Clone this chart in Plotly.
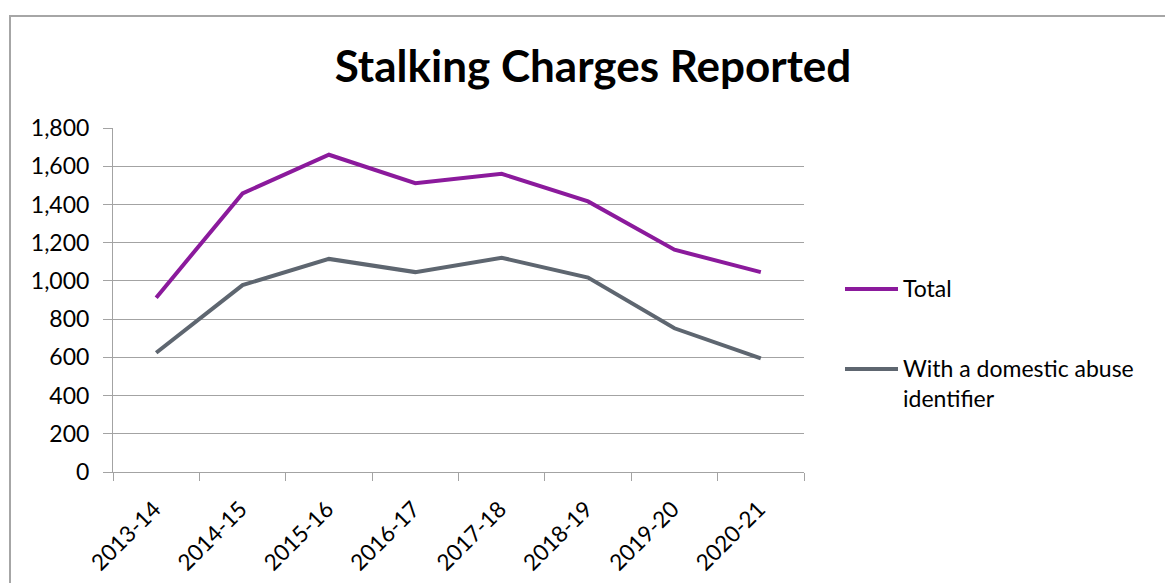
import plotly.graph_objects as go

years = ["2013-14", "2014-15", "2015-16", "2016-17", "2017-18", "2018-19", "2019-20", "2020-21"]
total = [912, 1458, 1660, 1511, 1560, 1416, 1163, 1046]
domestic = [624, 978, 1115, 1046, 1121, 1017, 752, 594]
series_names = ["Total", "With a domestic abuse identifier"]
series_colors = ["#8B1A9C", "#5E6670"]
title_text = "Stalking Charges Reported"
y_ticks = [0, 200, 400, 600, 800, 1000, 1200, 1400, 1600, 1800]

W, H = 1165, 583
L, R, T, B = 113, 804, 128, 472  # plot area in pixels
pw, ph = R - L, B - T

def px(x):
    return (x - L) / pw

def py(y):
    return (B - y) / ph

FONT = "Lato, Carlito, Calibri, sans-serif"
GRID = "#A3A3A3"

fig = go.Figure()
for vals, name, col in zip([total, domestic], series_names, series_colors):
    fig.add_trace(go.Scatter(x=years, y=vals, mode="lines", name=name,
                             line=dict(color=col, width=4), showlegend=False))

fig.update_layout(
    width=W, height=H,
    margin=dict(l=L, r=W - R, t=T, b=H - B, pad=0),
    paper_bgcolor="white", plot_bgcolor="white",
    font=dict(family=FONT, size=23, color="#000000"),
    title=dict(text="<b>" + title_text + "</b>", x=px(593), xref="paper",
               xanchor="center", y=1 - 67 / H, yanchor="middle",
               font=dict(family=FONT, size=44, color="#000000")),
)
fig.update_xaxes(type="category", range=[-0.5, len(years) - 0.5], automargin=False,
                 showline=True, linecolor=GRID, linewidth=1,
                 ticks="outside", ticklen=8, tickcolor=GRID, tickwidth=1,
                 tickson="boundaries", tickangle=-45, showgrid=False,
                 ticklabelshift=-2, ticklabelstandoff=14,
                 tickfont=dict(family=FONT, size=22.5, color="#000000"))
fig.update_yaxes(range=[0, 1800], tickvals=y_ticks, automargin=False,
                 ticktext=[f"{v:,}" for v in y_ticks],
                 showline=True, linecolor=GRID, linewidth=1,
                 ticks="outside", ticklen=9, tickcolor=GRID, tickwidth=1,
                 ticklabelstandoff=9,
                 showgrid=True, gridcolor=GRID, gridwidth=1, zeroline=False,
                 tickfont=dict(family=FONT, size=23, color="#000000"))

# chart border
fig.add_shape(type="rect", xref="paper", yref="paper",
              x0=px(10), x1=px(1175), y0=py(600), y1=py(16),
              line=dict(color="#A6A6A6", width=2), fillcolor="rgba(0,0,0,0)", layer="below")

# manual legend
legend_y = [289, 369]
legend_labels = [series_names[0], "With a domestic abuse<br>identifier"]
for yy, lab, col in zip(legend_y, legend_labels, series_colors):
    fig.add_shape(type="line", xref="paper", yref="paper",
                  x0=px(845), x1=px(898), y0=py(yy), y1=py(yy),
                  line=dict(color=col, width=4))
    fig.add_annotation(xref="paper", yref="paper", x=px(901), y=py(yy - 17),
                       text=lab, showarrow=False, xanchor="left", yanchor="top",
                       align="left", font=dict(family=FONT, size=23, color="#000000"))

fig.write_html("out.html", config={"displayModeBar": False},
               post_script="document.body.style.margin='0';document.body.style.overflow='hidden';")
